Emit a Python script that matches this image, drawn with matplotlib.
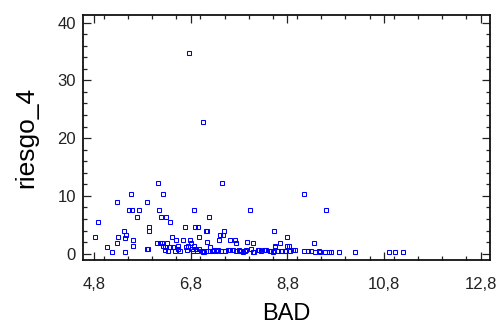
import matplotlib
matplotlib.use("Agg")
import matplotlib.pyplot as plt
from matplotlib.ticker import MultipleLocator, FixedLocator, FuncFormatter

plt.rcParams['font.family'] = ['Liberation Sans', 'DejaVu Sans']

# Upper / scattered points
bad_high = [6.77, 7.06, 6.12, 7.45, 5.57, 6.23, 9.14, 5.28, 5.89, 5.52, 5.59, 5.73,
            6.15, 6.87, 8.02, 9.59, 5.68, 6.19, 6.28, 7.18, 4.89, 6.36, 5.93, 5.93,
            6.69, 6.88, 6.94, 5.41, 7.11, 7.14, 7.48, 8.52, 5.46, 7.40, 7.47, 4.82,
            5.30, 5.43, 6.42, 6.96, 8.80, 5.60, 5.60, 6.50, 6.63, 6.79, 7.38, 7.62,
            7.71, 5.28, 6.11, 6.16, 6.21, 6.30, 6.80, 7.13, 7.73, 7.97, 8.09, 8.65,
            9.35, 8.84, 8.55, 5.06, 5.18, 5.43, 5.90, 5.92]
riesgo_high = [34.7, 22.7, 12.3, 12.3, 10.4, 10.4, 10.4, 8.9, 8.9, 7.5, 7.5, 7.5,
               7.5, 7.5, 7.5, 7.5, 6.4, 6.4, 6.4, 6.4, 5.5, 5.5, 4.6, 4.0,
               4.6, 4.6, 4.6, 4.0, 4.0, 4.0, 4.0, 4.0, 3.3, 3.3, 3.3, 2.8,
               2.8, 2.7, 2.8, 2.8, 2.8, 2.3, 1.4, 2.3, 2.3, 2.3, 2.3, 2.3,
               2.3, 1.8, 1.8, 1.8, 1.8, 1.8, 1.8, 2.0, 1.9, 2.0, 1.8, 1.8,
               1.8, 1.4, 1.3, 1.1, 0.3, 0.3, 0.8, 0.8]

# Points clustered near zero
bad_low = [6.22, 6.26, 6.36, 6.43, 6.54, 6.54, 6.71, 6.75, 6.82, 6.86, 6.90, 6.98,
           7.04, 7.08, 7.12, 7.19, 7.23, 7.29, 7.36, 7.43, 7.51, 7.56, 7.60, 7.67,
           7.81, 7.87, 7.95, 8.04, 8.09, 8.21, 8.31, 8.36, 8.43, 8.51, 8.55, 8.61,
           8.69, 8.74, 8.80,
           6.26, 6.33, 6.47, 6.57, 6.73, 6.85, 6.93, 7.05, 7.19, 7.26, 7.33, 7.43,
           7.50, 7.62, 7.73,
           7.79, 7.83, 7.93, 8.11, 8.19, 8.26, 8.34, 8.45, 8.53, 8.67, 8.74, 8.86,
           8.91, 8.96, 9.15, 9.22, 9.29,
           9.37, 9.45, 9.47, 9.57, 9.65, 9.70, 9.86, 10.20, 10.91, 11.03, 11.18]
riesgo_low = [1.4, 1.2, 1.1, 1.1, 1.4, 0.8, 1.1, 1.4, 0.8, 1.4, 0.8, 0.8,
              0.5, 0.3, 0.5, 1.1, 0.5, 0.7, 0.6, 0.5, 0.5, 0.7, 0.7, 0.6,
              0.5, 0.3, 0.7, 0.8, 0.3, 0.6, 0.6, 0.6, 0.5, 0.3, 1.1, 0.5,
              0.5, 0.5, 1.4,
              0.6, 0.5, 0.5, 0.5, 0.6, 0.4, 0.4, 0.3, 0.4, 0.4, 0.4, 0.4,
              0.4, 0.6, 0.4,
              0.7, 0.4, 0.5, 0.3, 0.6, 0.5, 0.7, 0.5, 0.4, 0.4, 0.4, 0.5,
              0.7, 0.7, 0.4, 0.4, 0.4,
              0.35, 0.4, 0.35, 0.3, 0.35, 0.35, 0.3, 0.3, 0.25, 0.3, 0.3]

x_ticks = [4.8, 6.8, 8.8, 10.8, 12.8]
y_ticks = [0, 10, 20, 30, 40]

fig = plt.figure(figsize=(4.97, 3.24), dpi=100)
ax = fig.add_axes([83/497, 1 - 260/324, 407/497, 245/324])

ax.plot(bad_high + bad_low, riesgo_high + riesgo_low, linestyle='none', marker='s',
        markersize=3.4, markerfacecolor='none', markeredgecolor='#0000ff',
        markeredgewidth=0.75)

ax.set_xlim(4.57, 12.99)
ax.set_ylim(-1.1, 41.3)
ax.xaxis.set_major_locator(FixedLocator(x_ticks))
ax.xaxis.set_minor_locator(MultipleLocator(0.5))
ax.yaxis.set_major_locator(FixedLocator(y_ticks))
ax.yaxis.set_minor_locator(MultipleLocator(2))
ax.xaxis.set_major_formatter(FuncFormatter(lambda v, p: f"{v:.1f}".replace('.', ',')))
ax.yaxis.set_major_formatter(FuncFormatter(lambda v, p: f"{v:.0f}"))

ax.tick_params(which='both', direction='in', top=True, right=True, colors='#222222',
               width=0.9)
ax.tick_params(which='major', length=6)
ax.tick_params(which='minor', length=3)
ax.tick_params(axis='x', which='major', labelsize=12, pad=12)
ax.tick_params(axis='y', which='major', labelsize=12, pad=5)
for s in ax.spines.values():
    s.set_linewidth(1.3)
    s.set_color('#111111')

ax.set_xlabel('BAD', fontsize=17, labelpad=8)
ax.set_ylabel('riesgo_4', fontsize=19, labelpad=14)

fig.savefig('out.png', dpi=100, facecolor='white')
